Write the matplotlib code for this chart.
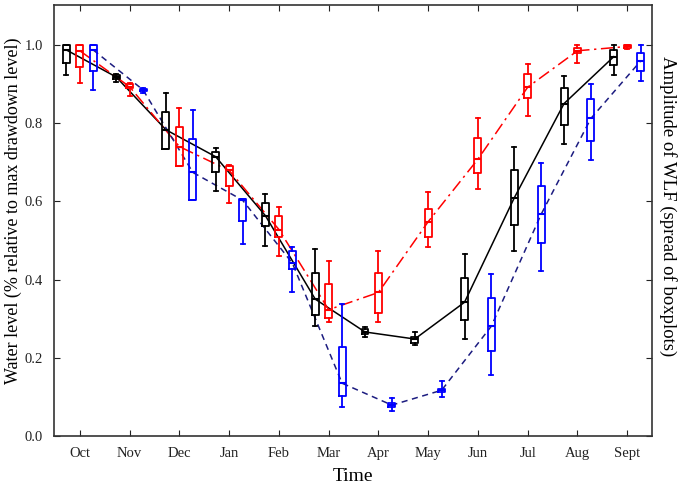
import matplotlib
matplotlib.use("Agg")
import matplotlib.pyplot as plt

plt.rcParams["font.family"] = ["Liberation Serif", "DejaVu Serif"]

months = ["Oct", "Nov", "Dec", "Jan", "Feb", "Mar", "Apr", "May", "Jun", "Jul", "Aug", "Sept"]

# black series (solid)
blk_med = [0.987, 0.918, 0.783, 0.714, 0.563, 0.350, 0.266, 0.248, 0.342, 0.609, 0.850, 0.970]
blk_q1 = [0.955, 0.914, 0.734, 0.674, 0.538, 0.309, 0.260, 0.239, 0.297, 0.540, 0.795, 0.949]
blk_q3 = [1.000, 0.924, 0.829, 0.727, 0.595, 0.416, 0.273, 0.254, 0.405, 0.680, 0.889, 0.987]
blk_lo = [0.922, 0.906, 0.734, 0.627, 0.485, 0.281, 0.254, 0.232, 0.247, 0.474, 0.746, 0.922]
blk_hi = [1.000, 0.926, 0.878, 0.736, 0.619, 0.477, 0.280, 0.267, 0.465, 0.740, 0.921, 1.000]

# red series (dash-dot)
red_med = [0.985, 0.893, 0.740, 0.679, 0.528, 0.323, 0.367, 0.548, 0.708, 0.892, 0.985, 0.996]
red_q1 = [0.943, 0.890, 0.690, 0.639, 0.510, 0.301, 0.315, 0.510, 0.673, 0.864, 0.979, 0.992]
red_q3 = [1.000, 0.900, 0.791, 0.691, 0.563, 0.389, 0.418, 0.580, 0.761, 0.926, 0.993, 1.000]
red_lo = [0.903, 0.870, 0.690, 0.597, 0.459, 0.291, 0.292, 0.483, 0.631, 0.817, 0.955, 0.989]
red_hi = [1.000, 0.902, 0.839, 0.693, 0.586, 0.448, 0.474, 0.623, 0.812, 0.951, 1.000, 1.000]

# blue series (dashed)
blu_med = [0.987, 0.885, 0.674, 0.603, 0.442, 0.135, 0.079, 0.117, 0.281, 0.567, 0.812, 0.959]
blu_q1 = [0.934, 0.882, 0.604, 0.550, 0.427, 0.103, 0.073, 0.113, 0.218, 0.493, 0.755, 0.933]
blu_q3 = [1.000, 0.888, 0.759, 0.605, 0.473, 0.228, 0.085, 0.121, 0.352, 0.638, 0.862, 0.979]
blu_lo = [0.885, 0.878, 0.604, 0.490, 0.368, 0.075, 0.064, 0.101, 0.157, 0.423, 0.706, 0.908]
blu_hi = [1.000, 0.890, 0.834, 0.605, 0.484, 0.338, 0.098, 0.141, 0.415, 0.699, 0.900, 1.000]

series = [
    (blk_med, blk_q1, blk_q3, blk_lo, blk_hi, -0.27, "black", "black", "-"),
    (red_med, red_q1, red_q3, red_lo, red_hi, 0.0, "#ff0000", "#ff0000", (0, (8, 3, 1.5, 3))),
    (blu_med, blu_q1, blu_q3, blu_lo, blu_hi, 0.27, "#0000ff", "#1c1c80", (0, (4, 3))),
]

fig = plt.figure(figsize=(6.8, 4.87), dpi=100)
ax = fig.add_axes([0.0794, 0.1047, 0.8796, 0.885])

base = list(range(1, len(months) + 1))
for med, q1, q3, lo, hi, off, bcol, lcol, ls in series:
    pos = [b + off for b in base]
    ax.plot(pos, med, color=lcol, linestyle=ls, linewidth=1.1, zorder=2)
    stats = [
        {"med": m, "q1": a, "q3": b, "whislo": l, "whishi": h}
        for m, a, b, l, h in zip(med, q1, q3, lo, hi)
    ]
    ax.bxp(stats, positions=pos, widths=0.14, capwidths=0.08, showfliers=False,
           manage_ticks=False,
           boxprops=dict(color=bcol, linewidth=1.3),
           whiskerprops=dict(color=bcol, linewidth=1.3),
           capprops=dict(color=bcol, linewidth=1.3),
           medianprops=dict(color=bcol, linewidth=1.5), zorder=3)

ax.set_xlim(0.48, 12.5)
ax.set_ylim(0, 1.102)
ax.set_xticks(base)
ax.set_xticklabels(months)
ax.set_yticks([0.0, 0.2, 0.4, 0.6, 0.8, 1.0])
ax.set_yticklabels(["0.0", "0.2", "0.4", "0.6", "0.8", "1.0"])
ax.tick_params(direction="in", top=True, right=True, length=4, labelsize=10.5,
               colors="#222222", pad=8)
for sp in ax.spines.values():
    sp.set_color("#333333")
    sp.set_linewidth(1.2)

ax.set_xlabel("Time", fontsize=14, labelpad=6)
fig.text(0.02, 0.567, "Water level (% relative to max drawdown level)", rotation=90,
         fontsize=13, ha="center", va="center")
fig.text(0.982, 0.577, "Amplitude of WLF (spread of boxplots)", rotation=270,
         fontsize=13.5, ha="center", va="center")

fig.savefig("out.png", dpi=100)
